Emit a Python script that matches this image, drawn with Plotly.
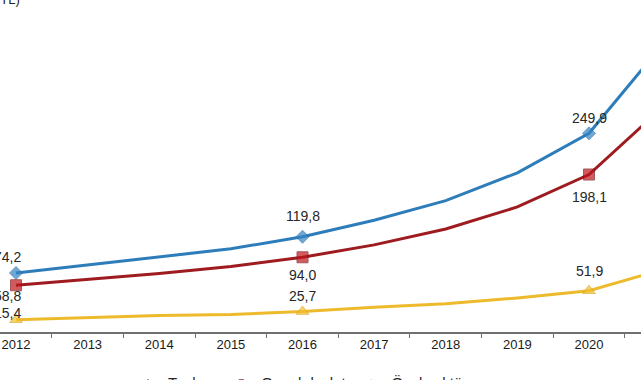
import plotly.graph_objects as go

years = ["2012", "2013", "2014", "2015", "2016", "2017", "2018", "2019", "2020", "2021"]
toplam = [74.2, 84.4, 94.1, 104.6, 119.8, 140.6, 165.2, 200.2, 249.9, 358.4]
genel_devlet = [58.8, 66.3, 73.5, 82.5, 94.0, 109.6, 129.6, 157.3, 198.1, 280.5]
ozel_sektor = [15.4, 18.1, 20.6, 22.1, 25.7, 31.0, 35.6, 42.9, 51.9, 77.9]
labeled_years = ["2012", "2016", "2020", "2021"]
series_names = ["Toplam", "Genel devlet", "Özel sektör"]

FONT = "Liberation Sans, Arial, sans-serif"
colors_line = ["#2E7DBB", "#9E1B20", "#EDBA2C"]
colors_marker = ["#3584C4", "#C0161E", "#F2C12E"]
marker_border = ["#2A6FA8", "#7E1015", "#D9A520"]
symbols = ["diamond", "square", "triangle-up"]
msizes = [10, 11, 11]
# label offsets (pixels) per series: yshift
label_yshift = [[16, 21, 15, 18], [-11, -18, -22, -20], [7, 16, 20, 16]]

fig = go.Figure()
all_series = [toplam, genel_devlet, ozel_sektor]
for i, (name, vals) in enumerate(zip(series_names, all_series)):
    sizes = [msizes[i] if y in labeled_years else 0 for y in years]
    fig.add_trace(go.Scatter(
        x=years, y=vals, name=name, mode="lines+markers",
        line=dict(color=colors_line[i], width=3),
        marker=dict(symbol=symbols[i], size=sizes, color=colors_marker[i],
                    line=dict(color=marker_border[i], width=1)),
        cliponaxis=False,
    ))
    for k, yr in enumerate(labeled_years):
        idx = years.index(yr)
        fig.add_annotation(
            x=idx, y=vals[idx], xref="x", yref="y",
            text=f"{vals[idx]:.1f}".replace(".", ","),
            showarrow=False, yshift=label_yshift[i][k],
            xshift=-9 if yr == "2012" else 0,
            font=dict(family=FONT, size=14, color="#262626"),
        )

fig.add_annotation(
    x=22 / 641, y=1 - 9 / 332, xref="paper", yref="paper",
    xanchor="right", yanchor="bottom", text="(Milyar TL)", showarrow=False,
    font=dict(family=FONT, size=13, color="#262626"),
)

fig.update_layout(
    width=641, height=380,
    margin=dict(l=0, r=0, t=0, b=48, autoexpand=False),
    paper_bgcolor="white", plot_bgcolor="white",
    showlegend=True,
    legend=dict(orientation="h", x=128 / 641, xanchor="left", y=-0.101, yanchor="top",
                font=dict(family=FONT, size=15, color="#262626")),
    xaxis=dict(type="category", range=[-16 / 71.625, (641 - 16) / 71.625],
               showline=True, linecolor="#6F6F6F", linewidth=1.5,
               ticks="outside", tickson="boundaries", ticklen=4, tickcolor="#6F6F6F",
               showgrid=False, zeroline=False, automargin=False,
               tickfont=dict(family=FONT, size=13, color="#1A1A1A")),
    yaxis=dict(range=[0, 332 / 0.795], visible=False, showgrid=False, zeroline=False,
               automargin=False),
)

fig.write_html("out.html", config={"displayModeBar": False},
               post_script="document.body.style.margin='0';document.body.style.overflow='hidden';")
